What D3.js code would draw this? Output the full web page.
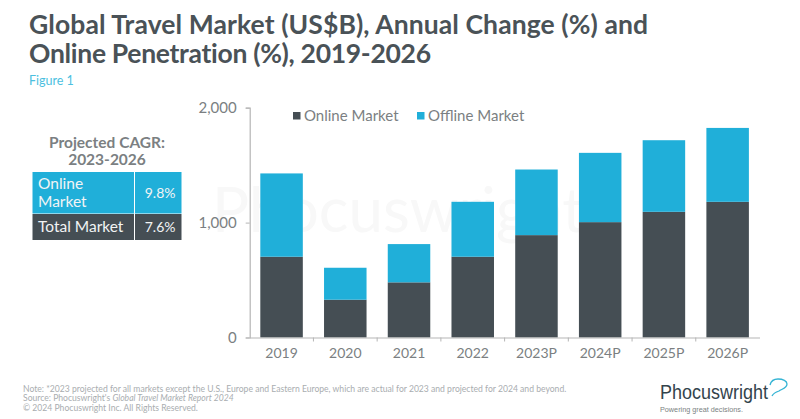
<!DOCTYPE html>
<html>
<head>
<meta charset="utf-8">
<script src="https://cdn.jsdelivr.net/npm/d3@7"></script>
<style>
	html, body { margin: 0; padding: 0; background: #fff; overflow: hidden; }
	svg { display: block; font-family: Lato, sans-serif; }
</style>
</head>
<body>
<svg id="svg"></svg>
<script>
var width = 800, height = 419;
var svg = d3.select("#svg")
	.attr("width", width)
	.attr("height", height);

var years = ["2019", "2020", "2021", "2022", "2023P", "2024P", "2025P", "2026P"];
var online = [703, 329, 480, 703, 891, 1004, 1094, 1181];
var offline = [725, 278, 333, 478, 571, 603, 623, 643];
var seriesNames = ["Online Market", "Offline Market"];
var yTicks = [0, 1000, 2000];
var titleLines = ["Global Travel Market (US$B), Annual Change (%) and", "Online Penetration (%), 2019-2026"];
var cagrTitle = ["Projected CAGR:", "2023-2026"];
var cagrLabels = [["Online", "Market"], ["Total Market"]];
var cagrValues = ["9.8%", "7.6%"];
var notes = [
	"Note: *2023 projected for all markets except the U.S., Europe and Eastern Europe, which are actual for 2023 and projected for 2024 and beyond.",
	"Source: Phocuswright's |Global Travel Market Report 2024",
	"\u00a9 2024 Phocuswright Inc. All Rights Reserved."
];

var dark = "#454e54", blue = "#20afd9", grey = "#7b7f82";

var color = d3.scaleOrdinal()
	.domain(seriesNames)
	.range([dark, blue]);

var x = d3.scaleBand()
	.domain(years)
	.range([249.7, 759.5])
	.paddingInner(0.333)
	.paddingOuter(0.1665);
var y = d3.scaleLinear()
	.domain([0, 2000])
	.range([337.5, 107.7]);

// title, stretched a little to the widths of the original lines
var titleLengths = [619, 402];
svg.selectAll(".title")
	.data(titleLines)
	.enter()
	.append("text")
	.attr("class", "title")
	.attr("x", 29)
	.attr("y", function(d, i) { return 34 + i * 29; })
	.attr("textLength", function(d, i) { return titleLengths[i]; })
	.attr("lengthAdjust", "spacing")
	.style("font-size", "26.5px")
	.style("font-weight", 700)
	.style("font-variant-ligatures", "none")
	.style("fill", "#4a5257")
	.text(function(d) { return d; });
svg.append("text")
	.attr("x", 29)
	.attr("y", 85)
	.style("font-size", "12.5px")
	.style("fill", "#4cbfdf")
	.text("Figure 1");

// faint watermark behind the bars
svg.append("text")
	.attr("x", 212)
	.attr("y", 232)
	.style("font-size", "62px")
	.style("fill", "#f8f8f8")
	.text("Phocuswright");

// bars
var stack = d3.stack().keys(seriesNames)(years.map(function(d, i) {
	return { year: d, "Online Market": online[i], "Offline Market": offline[i] };
}));
var layer = svg.selectAll(".layer")
	.data(stack)
	.enter()
	.append("g")
	.attr("class", "layer")
	.style("fill", function(d) { return color(d.key); });
layer.selectAll("rect")
	.data(function(d) { return d; })
	.enter()
	.append("rect")
	.attr("x", function(d) { return x(d.data.year); })
	.attr("y", function(d) { return y(d[1]); })
	.attr("width", x.bandwidth())
	.attr("height", function(d) { return y(d[0]) - y(d[1]); });

// axes
var xAxis = d3.axisBottom(x).tickSize(0).tickPadding(11);
var yAxis = d3.axisLeft(y).tickValues(yTicks).tickFormat(d3.format(",")).tickSize(4).tickPadding(9);
var gx = svg.append("g")
	.attr("transform", "translate(0," + y(0) + ")")
	.call(xAxis);
var gy = svg.append("g")
	.attr("transform", "translate(" + x.range()[0] + ",0)")
	.call(yAxis);
// x ticks sit on the band edges, none at the far end
gx.selectAll(".edge")
	.data(years.slice(0, -1))
	.enter()
	.append("line")
	.attr("class", "edge")
	.attr("x1", function(d) { return x(d) + x.bandwidth() + x.step() * 0.1665; })
	.attr("x2", function(d) { return x(d) + x.bandwidth() + x.step() * 0.1665; })
	.attr("y1", 0)
	.attr("y2", 4)
	.attr("stroke", "#b5b5b5");
[gx, gy].forEach(function(g) {
	g.selectAll("path").attr("stroke", "#b5b5b5").attr("stroke-width", 1.2);
	g.selectAll(".tick line").attr("stroke", "#b5b5b5");
	g.selectAll("text")
		.style("font-family", "Lato, sans-serif")
		.style("font-size", "14px")
		.style("fill", grey);
});
gy.selectAll("text").style("font-size", "15px");

// legend
var legendX = d3.scaleOrdinal().domain(seriesNames).range([293, 417]);
var legend = svg.selectAll(".legend")
	.data(seriesNames)
	.enter()
	.append("g")
	.attr("class", "legend")
	.attr("transform", function(d) { return "translate(" + legendX(d) + ",112)"; });
legend.append("rect")
	.attr("width", 7.5)
	.attr("height", 7.5)
	.style("fill", function(d) { return color(d); });
legend.append("text")
	.attr("x", 11)
	.attr("y", 9)
	.style("font-size", "15px")
	.style("fill", grey)
	.text(function(d) { return d; });

// CAGR table
svg.selectAll(".cagr-title")
	.data(cagrTitle)
	.enter()
	.append("text")
	.attr("class", "cagr-title")
	.attr("x", 107)
	.attr("y", function(d, i) { return 148 + i * 17; })
	.style("text-anchor", "middle")
	.style("font-size", "15.5px")
	.style("font-weight", 700)
	.style("fill", grey)
	.text(function(d) { return d; });

var rowTop = [172, 214], rowBottom = [213.5, 240], rowFill = [blue, dark];
var row = svg.selectAll(".cagr-row")
	.data(cagrValues)
	.enter()
	.append("g")
	.attr("class", "cagr-row");
row.append("rect")
	.attr("x", 32.5)
	.attr("y", function(d, i) { return rowTop[i]; })
	.attr("width", 101.5)
	.attr("height", function(d, i) { return rowBottom[i] - rowTop[i]; })
	.style("fill", function(d, i) { return rowFill[i]; });
row.append("rect")
	.attr("x", 135)
	.attr("y", function(d, i) { return rowTop[i]; })
	.attr("width", 46.5)
	.attr("height", function(d, i) { return rowBottom[i] - rowTop[i]; })
	.style("fill", function(d, i) { return rowFill[i]; });
row.append("text")
	.attr("x", 175.5)
	.attr("y", function(d, i) { return i == 0 ? 198 : 232; })
	.style("text-anchor", "end")
	.style("font-size", "14px")
	.style("fill", "#f2f4f5")
	.text(function(d) { return d; });
row.each(function(d, i) {
	d3.select(this).selectAll(".label")
		.data(cagrLabels[i])
		.enter()
		.append("text")
		.attr("class", "label")
		.attr("x", 38)
		.attr("y", function(t, j) { return (i == 0 ? 189 : 232) + j * 17.5; })
		.style("font-size", "15.5px")
		.style("fill", "#f2f4f5")
		.text(function(t) { return t; });
});

// footnotes, the part after | is italic
var note = svg.selectAll(".note")
	.data(notes)
	.enter()
	.append("text")
	.attr("class", "note")
	.attr("x", 23)
	.attr("y", function(d, i) { return 391.5 + i * 9.7; })
	.style("font-size", "8.6px")
	.style("fill", "#a9adb0");
note.selectAll("tspan")
	.data(function(d) { return d.split("|"); })
	.enter()
	.append("tspan")
	.style("font-style", function(d, i) { return i == 1 ? "italic" : "normal"; })
	.text(function(d) { return d; });

// logo, squeezed because no narrow font is there
var logo = svg.append("g").attr("transform", "translate(660,0)");
logo.append("text")
	.attr("y", 399)
	.attr("textLength", 108)
	.attr("lengthAdjust", "spacingAndGlyphs")
	.style("font-family", "'Liberation Sans', sans-serif")
	.style("font-size", "20px")
	.style("fill", "#33434c")
	.text("Phocuswright");
logo.append("path")
	.attr("d", "M 110 385 C 111 381 114 379 118 379 C 123 379 127 381 127 384 C 127 388 122 389 119 391 C 116 392 113 394 112 396")
	.attr("fill", "none")
	.attr("stroke", "#35b4d4")
	.attr("stroke-width", 1.3);
logo.append("text")
	.attr("y", 411.5)
	.attr("textLength", 83)
	.attr("lengthAdjust", "spacingAndGlyphs")
	.style("font-family", "'Liberation Sans', sans-serif")
	.style("font-size", "8px")
	.style("fill", "#7b7f82")
	.text("Powering great decisions.");
</script>
</body>
</html>
